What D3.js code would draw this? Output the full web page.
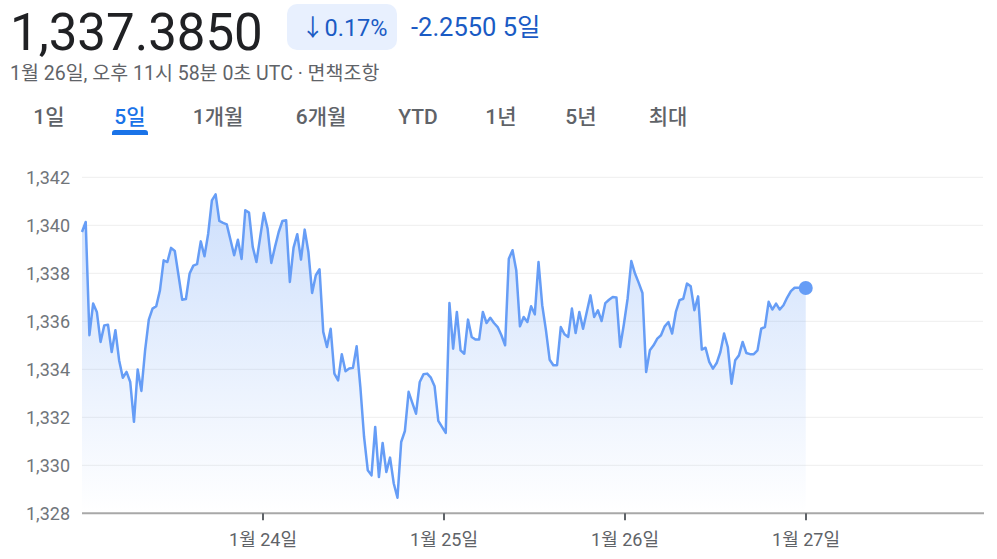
<!DOCTYPE html>
<html><head><meta charset="utf-8">
<script src="https://cdn.jsdelivr.net/npm/d3@7"></script>
<style>
body{margin:0;background:#fff;overflow:hidden;}
svg text{font-family: Roboto, "Noto Sans CJK KR", sans-serif;}
</style></head><body>
<svg id="c" width="997" height="559"></svg>
<script>
// ---- data ----
const priceText = "1,337.3850";
const changePct = "↓0.17%";
const changeAbs = "-2.2550 5일";
const subtitle = "1월 26일, 오후 11시 58분 0초 UTC · 면책조항";
const tabs = ["1일","5일","1개월","6개월","YTD","1년","5년","최대"];
const selectedTab = "5일";
const startTime = "2025-01-23T00:00:00Z";
const endTime = "2025-01-26T23:58:00Z";
const values = [
1339.72,1340.14,1335.42,1336.74,1336.39,1335.14,1335.83,1335.86,1334.72,1335.63,
1334.38,1333.65,1333.89,1333.47,1331.81,1333.99,1333.10,1334.79,1336.07,1336.53,
1336.63,1337.29,1338.54,1338.47,1339.06,1338.93,1337.92,1336.90,1336.93,1337.99,
1338.32,1338.38,1339.33,1338.71,1339.65,1341.04,1341.29,1340.18,1340.10,1340.04,
1339.40,1338.75,1339.40,1338.60,1340.63,1340.53,1339.10,1338.47,1339.50,1340.51,
1339.86,1338.43,1339.10,1339.72,1340.18,1340.21,1337.64,1339.07,1339.63,1338.57,
1339.82,1338.89,1337.18,1337.92,1338.17,1335.56,1334.93,1335.69,1333.82,1333.54,
1334.63,1333.92,1334.03,1334.06,1334.96,1333.26,1331.18,1329.79,1329.58,1331.60,
1329.51,1330.93,1329.72,1330.32,1329.24,1328.65,1330.97,1331.43,1333.06,1332.60,
1332.15,1333.47,1333.79,1333.82,1333.65,1333.29,1331.85,1331.60,1331.35,1336.76,
1334.86,1336.39,1334.79,1334.65,1336.07,1335.35,1335.24,1335.24,1336.39,1335.93,
1336.15,1335.93,1335.76,1335.42,1335.00,1338.61,1338.96,1338.13,1335.79,1336.18,
1335.97,1336.63,1336.29,1338.47,1336.67,1335.63,1334.40,1334.17,1334.17,1335.76,
1335.46,1335.35,1336.53,1335.51,1336.39,1335.69,1336.39,1337.08,1336.18,1336.46,
1336.01,1336.76,1336.90,1337.01,1336.99,1334.93,1335.88,1336.94,1338.51,1337.99,
1337.60,1337.18,1333.89,1334.79,1335.00,1335.28,1335.42,1335.79,1335.97,1335.49,
1336.39,1336.88,1336.94,1337.57,1337.46,1336.46,1337.04,1334.82,1334.90,1334.31,
1334.03,1334.26,1334.72,1335.49,1334.93,1333.40,1334.38,1334.58,1335.14,1334.68,
1334.63,1334.63,1334.79,1335.69,1335.76,1336.81,1336.49,1336.74,1336.49,1336.67,
1336.99,1337.26,1337.40,1337.40,1337.40,1337.385
];
const yTicks = [1328,1330,1332,1334,1336,1338,1340,1342];
const xTickDates = ["2025-01-24","2025-01-25","2025-01-26","2025-01-27"];
const xDomain = ["2025-01-23","2025-01-28"];

// ---- drawing ----
const svg = d3.select("#c");
const lineColor = "#669df6";
const t0 = new Date(startTime), t1 = new Date(endTime);
const data = values.map((v,i)=>({t:new Date(+t0 + (t1-t0)*i/(values.length-1)), v}));

// header
svg.append("text").attr("x",10).attr("y",50).attr("font-size",51).attr("fill","#202124").text(priceText);
svg.append("rect").attr("x",287).attr("y",4).attr("width",110).attr("height",46).attr("rx",10).attr("fill","#e8f0fe");
svg.append("text").attr("x",301).attr("y",36).attr("font-size",23.5).attr("fill","#1a5bc4").text(changePct);
svg.append("text").attr("x",411).attr("y",36).attr("font-size",25.5).attr("fill","#1a5bc4").text(changeAbs);
svg.append("text").attr("x",10).attr("y",80).attr("font-size",19.5).attr("fill","#5f6368").text(subtitle);

// tabs
const tabX = [49,130,218,321,418,501,581,668];
tabs.forEach((t,i)=>{
  const sel = t===selectedTab;
  svg.append("text").attr("x",tabX[i]).attr("y",124).attr("text-anchor","middle")
    .attr("font-size",21).attr("font-weight",500)
    .attr("fill", sel ? "#1a73e8" : "#5f6368").text(t);
  if(sel){
    svg.append("path").attr("d",`M${tabX[i]-18},135 v-2 a3,3 0 0 1 3,-3 h30 a3,3 0 0 1 3,3 v2 z`).attr("fill","#1a73e8");
  }
});

// scales
const x = d3.scaleUtc().domain(xDomain.map(d=>new Date(d+"T00:00:00Z"))).range([82,987]);
const y = d3.scaleLinear().domain([1328,1342]).range([513.3,177.3]);

// gridlines
svg.append("g").selectAll("line").data(yTicks.filter(d=>d>1328)).join("line")
  .attr("x1",82).attr("x2",983).attr("y1",d=>y(d)).attr("y2",d=>y(d))
  .attr("stroke","#eeeeee").attr("stroke-width",1);

// y labels
svg.append("g").selectAll("text").data(yTicks).join("text")
  .attr("x",70).attr("y",d=>y(d)).attr("dy","0.35em").attr("text-anchor","end")
  .attr("font-size",18).attr("fill","#70757a").text(d=>d3.format(",")(d));

// gradient
const defs = svg.append("defs");
const g = defs.append("linearGradient").attr("id","fillg").attr("gradientUnits","userSpaceOnUse")
  .attr("x1",0).attr("x2",0).attr("y1",y(1342)).attr("y2",y(1328));
g.append("stop").attr("offset",0).attr("stop-color",lineColor).attr("stop-opacity",0.34);
g.append("stop").attr("offset",1).attr("stop-color",lineColor).attr("stop-opacity",0);

const area = d3.area().x(d=>x(d.t)).y0(y(1328)).y1(d=>y(d.v));
svg.append("path").datum(data).attr("d",area).attr("fill","url(#fillg)");

const line = d3.line().x(d=>x(d.t)).y(d=>y(d.v));
svg.append("path").datum(data).attr("d",line).attr("fill","none")
  .attr("stroke",lineColor).attr("stroke-width",2.5).attr("stroke-linejoin","round");

// x axis
svg.append("line").attr("x1",82).attr("x2",984).attr("y1",y(1328)).attr("y2",y(1328))
  .attr("stroke","#a8a8a8").attr("stroke-width",2);
const xt = xTickDates.map(d=>new Date(d+"T00:00:00Z"));
const fmt = d3.utcFormat("%-m월 %-d일");
svg.append("g").selectAll("line").data(xt).join("line")
  .attr("x1",d=>x(d)).attr("x2",d=>x(d)).attr("y1",y(1328)).attr("y2",y(1328)+7)
  .attr("stroke","#5f6368").attr("stroke-width",2);
svg.append("g").selectAll("text").data(xt).join("text")
  .attr("x",d=>x(d)).attr("y",546).attr("text-anchor","middle")
  .attr("font-size",18).attr("fill","#5f6368").text(d=>fmt(d));

// end dot
const last = data[data.length-1];
svg.append("circle").attr("cx",x(last.t)).attr("cy",y(last.v)).attr("r",7).attr("fill",lineColor);
</script>
</body></html>
